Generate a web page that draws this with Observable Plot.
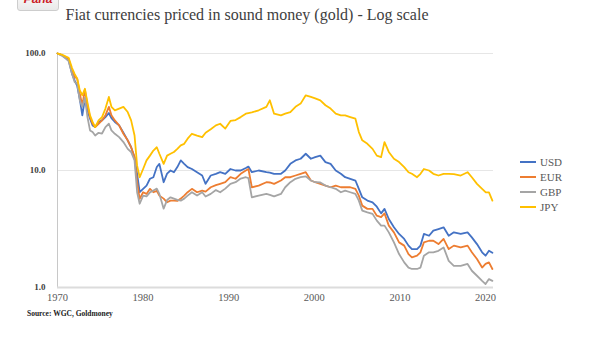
<!DOCTYPE html>
<html><head><meta charset="utf-8">
<script src="https://cdn.jsdelivr.net/npm/d3@7"></script>
<script src="https://cdn.jsdelivr.net/npm/@observablehq/plot@0.6"></script>
<style>
body{margin:0;background:#fff;}
#wrap{position:relative;width:602px;height:347px;overflow:hidden;font-family:"Liberation Serif","Times New Roman",serif;background:#fff;}
#chart{position:absolute;left:0;top:0;}
#pin{position:absolute;left:17px;top:-12px;width:40px;height:21px;border:1px solid #cdcdcd;border-radius:3px;background:linear-gradient(#ffffff,#e9e9e9);color:#cb2027;font:italic bold 12px "Liberation Sans",Arial,sans-serif;text-align:center;line-height:20px;z-index:3;}
#title{position:absolute;left:0;width:494px;top:6px;text-align:center;font-size:16px;line-height:18px;color:#404040;z-index:2;white-space:nowrap;}
#legend{position:absolute;left:520px;top:155px;font-size:11px;color:#595959;z-index:2;}
#legend .row{height:15px;line-height:15px;white-space:nowrap;}
#legend .sw{display:inline-block;width:16px;height:2px;vertical-align:middle;margin-right:4px;position:relative;top:-1px;}
#source{position:absolute;left:27px;top:309px;font-size:7.5px;font-weight:bold;color:#222;z-index:2;white-space:nowrap;}
</style></head><body>
<div id="wrap">
  <div id="chart"></div>
  <div id="pin">Pana</div>
  <div id="title">Fiat currencies priced in sound money (gold) - Log scale</div>
  <div id="legend"></div>
  <div id="source">Source: WGC, Goldmoney</div>
</div>
<script>
const years = [1970.0,1970.5,1971.0,1971.3,1971.7,1972.0,1972.3,1972.6,1972.9,1973.2,1973.5,1973.8,1974.1,1974.4,1974.8,1975.2,1975.6,1976.0,1976.3,1976.7,1977.2,1977.7,1978.2,1978.6,1979.0,1979.3,1979.6,1980.0,1980.4,1980.8,1981.2,1981.6,1981.9,1982.4,1982.8,1983.2,1983.6,1984.0,1984.4,1984.8,1985.2,1985.7,1986.3,1986.9,1987.3,1987.9,1988.5,1989.0,1989.6,1990.2,1990.8,1991.4,1992.0,1992.3,1992.7,1993.5,1994.4,1994.8,1995.3,1996.1,1996.6,1997.2,1997.8,1998.4,1999.0,1999.6,2000.1,2000.7,2001.3,2001.9,2002.5,2003.1,2003.6,2004.2,2004.8,2005.2,2005.6,2006.2,2006.8,2007.3,2007.8,2008.2,2008.7,2009.3,2009.9,2010.5,2011.0,2011.4,2012.0,2012.4,2012.8,2013.4,2013.9,2014.5,2015.1,2015.7,2016.3,2017.1,2017.9,2018.4,2019.0,2019.6,2020.0,2020.4,2020.8];
const usd = [100,97,91,88,67,59,53,41,29.6,41,32.7,27.7,24.3,23.5,26,26.8,28.6,31,28,26,24.3,21,18.1,15.8,13,9.37,6.52,6.97,7.43,8.5,8.76,10.7,11.4,7.94,9.4,10,9.67,10.7,12.2,11.4,10.7,10.3,9.67,9.06,7.7,9.06,9.37,9.67,9.37,10.3,10,10,10.5,10.8,9.67,10,9.67,9.6,9.37,9.37,10,11.4,12.2,12.6,13.9,12.6,13,13.4,11.8,11.4,10,9.37,8.76,8.49,8.21,6.97,5.9,5.53,5.35,4.9,4.3,4.7,3.85,3.27,2.87,2.6,2.28,2.13,2.13,2.28,2.87,2.77,3.06,3.16,3.27,2.77,2.96,2.87,2.96,2.68,2.35,2.0,1.87,2.06,1.98];
const eur = [100,97,92,90,70,63,61,45.5,36,49,36,28.6,25.1,23.5,25.1,26.8,29.6,35,29.6,26.8,24.3,20.6,18.1,15.8,13,7.94,5.73,6.52,6.31,6.97,6.52,6.7,6.1,5.75,5.35,5.53,5.53,5.5,5.75,6.1,6.52,6.97,6.52,6.74,6.6,7.19,7.5,7.69,7.94,8.76,8.5,9.37,10,10.3,7.19,7.43,7.94,7.9,7.69,8.21,8.76,8.76,9.06,9.37,9.67,8.21,7.94,7.69,7.43,7.19,7.43,7.19,7.19,7.19,6.97,6.1,5.01,4.7,4.7,4.11,4.0,4.3,3.38,2.96,2.43,2.28,1.93,1.81,1.87,2.0,2.43,2.51,2.51,2.35,2.6,2.13,2.28,2.2,2.28,2.0,1.75,1.48,1.59,1.64,1.44];
const gbp = [100,96,90,86,67,57,55,40,35,42,28.6,22,21.3,19.9,21,20.7,23.5,25.1,22,20.6,19.3,17.5,15.3,14.4,12.2,6.52,5.2,6.1,6.0,6.5,6.74,7.0,6.3,4.72,5.6,5.9,5.75,5.6,5.53,5.75,6.1,6.52,6.1,6.52,6.0,6.31,6.8,6.52,7.0,7.7,7.94,8.54,8.76,8.6,5.9,6.1,6.31,6.2,6.0,6.31,7.19,7.94,8.49,8.76,8.9,8.21,7.94,7.9,7.43,7.19,6.97,6.52,6.74,6.52,6.31,5.53,4.54,4.39,4.26,3.73,3.38,3.38,2.96,2.43,1.93,1.64,1.48,1.44,1.44,1.48,1.87,2.0,2.0,2.06,2.2,1.69,1.53,1.53,1.59,1.39,1.26,1.14,1.07,1.18,1.14];
const jpy = [100,98,94,92,75,67,61,48.5,44,50,38,29.6,26,23.5,26.8,28.6,33.8,42.5,35,32.7,33.8,35,31.6,26.8,19.9,11,8.76,10.3,12.2,13.4,14.8,15.8,13.9,11.4,13.4,13.9,14.4,15.3,16.4,16.9,18.7,20.6,19.9,19.3,21,22.5,24.3,25.1,22.8,26.5,27,28.6,30.6,31,31.4,32.7,35,39.8,30.6,29.6,30.6,31.6,35,37.3,43.9,42.5,41.4,39.8,36.1,33.8,30.6,29.6,29.6,28.6,27.7,21.3,18.1,16.9,15.3,13.4,13,17.5,14.4,12.6,11.8,10.7,9.67,9.37,8.76,9.37,10.3,10,9.37,9.06,9.37,9.37,9.3,9.06,9.67,8.76,7.69,6.97,6.52,6.5,5.53];
const seriesNames = ["USD","EUR","GBP","JPY"];
const seriesColors = ["#4472C4","#ED7D31","#A5A5A5","#FFC000"];
const xTicks = [1970,1980,1990,2000,2010,2020];
const yTicks = [1,10,100];
const yTickLabels = ["1.0","10.0","100.0"];

const valuesBySeries = [usd, eur, gbp, jpy];
const data = [];
seriesNames.forEach((s, i) => {
  years.forEach((y, j) => data.push({series: s, year: y, value: valuesBySeries[i][j]}));
});

const chart = Plot.plot({
  width: 602,
  height: 347,
  marginLeft: 57,
  marginRight: 109,
  marginTop: 53,
  marginBottom: 60,
  style: {fontFamily: '"Liberation Serif","Times New Roman",serif', background: "transparent", color: "#404040"},
  x: {domain: [1970, 2020.93], label: null},
  y: {type: "log", domain: [1, 100], label: null},
  color: {domain: seriesNames, range: seriesColors},
  marks: [
    Plot.gridY(yTicks.slice(1), {stroke: "#e6e6e6", strokeOpacity: 1, strokeWidth: 1}),
    Plot.ruleX([1970], {stroke: "#c8c8c8", strokeWidth: 1}),
    Plot.ruleY([1], {stroke: "#dcdcdc", strokeWidth: 2}),
    Plot.axisY(yTicks, {label: null, tickSize: 0, tickPadding: 12, tickFormat: d => yTickLabels[yTicks.indexOf(d)], fontSize: 9, fontWeight: "bold", fill: "#404040"}),
    Plot.axisX(xTicks, {label: null, tickSize: 0, tickPadding: 6, tickFormat: d => String(d), fontSize: 10.5, fill: "#595959"}),
    Plot.line(data, {x: "year", y: "value", z: "series", stroke: "series", strokeWidth: 1.8, strokeLinejoin: "round"})
  ]
});
document.getElementById("chart").appendChild(chart);

const legend = document.getElementById("legend");
seriesNames.forEach((s, i) => {
  const row = document.createElement("div");
  row.className = "row";
  const sw = document.createElement("span");
  sw.className = "sw";
  sw.style.background = seriesColors[i];
  row.appendChild(sw);
  row.appendChild(document.createTextNode(s));
  legend.appendChild(row);
});
</script>
</body></html>
